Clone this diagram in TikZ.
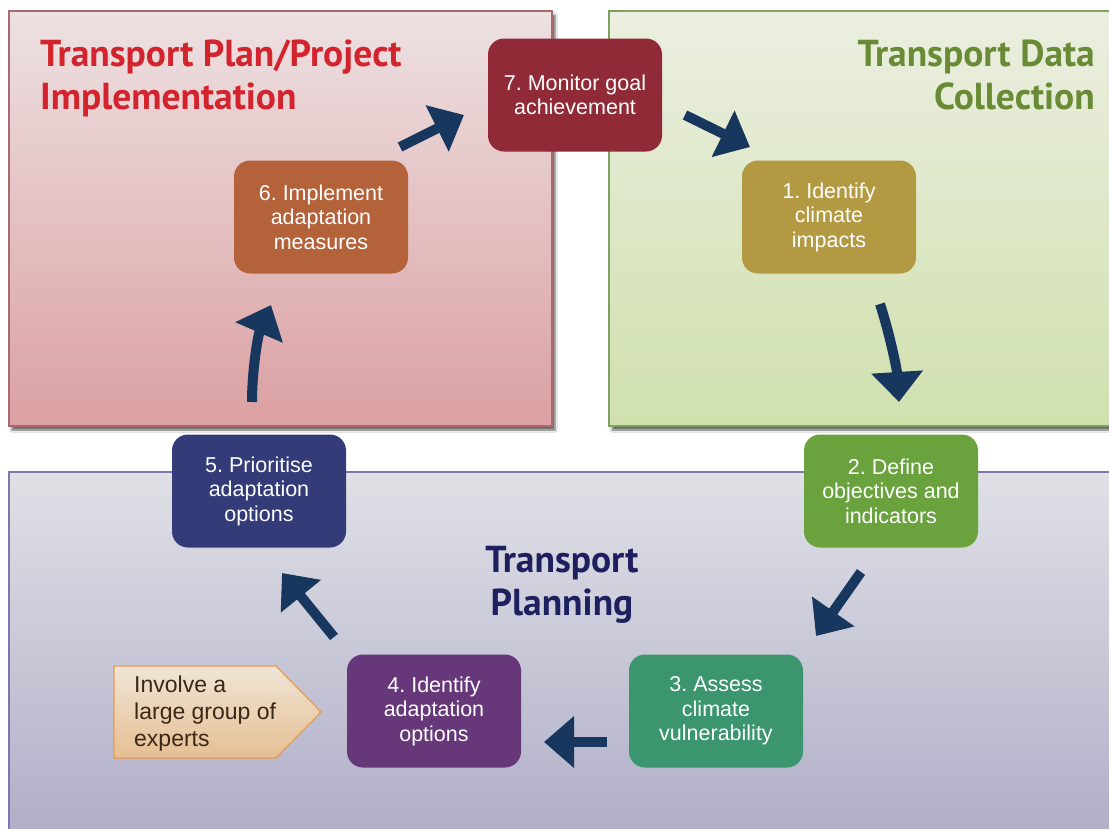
\documentclass[tikz,border=0pt]{standalone}
\usepackage{fontspec}
\setmainfont{Liberation Sans}
\newfontfamily\titlefont{PT Sans}
\usetikzlibrary{arrows.meta,shadows.blur}
\frenchspacing

\definecolor{redtop}{HTML}{EDE1E2}
\definecolor{redbot}{HTML}{DBA0A2}
\definecolor{redline}{HTML}{A86A6E}
\definecolor{greentop}{HTML}{EBEFE0}
\definecolor{greenbot}{HTML}{D0E0AE}
\definecolor{greenline}{HTML}{7FA262}
\definecolor{plantop}{HTML}{DFE1E6}
\definecolor{planbot}{HTML}{AEACC7}
\definecolor{planline}{HTML}{8573AE}
\definecolor{titlered}{HTML}{D3232D}
\definecolor{titlegreen}{HTML}{6A8B36}
\definecolor{titlenavy}{HTML}{1E1F5F}
\definecolor{arrowblue}{HTML}{17375E}
\definecolor{cmonitor}{HTML}{8F2A36}
\definecolor{cimplement}{HTML}{B3623A}
\definecolor{cimpacts}{HTML}{B39A42}
\definecolor{cdefine}{HTML}{6AA23E}
\definecolor{cassess}{HTML}{3B956F}
\definecolor{cidentify}{HTML}{66387A}
\definecolor{cprioritise}{HTML}{333B78}
\definecolor{experttop}{HTML}{EFE5D6}
\definecolor{expertbot}{HTML}{E6BF93}
\definecolor{expertline}{HTML}{EB9A4F}
\definecolor{experttext}{HTML}{3A2716}

\tikzset{
  panel/.style={line width=1.3pt},
  panelshadow/.style={blur shadow={shadow xshift=3pt, shadow yshift=-4pt, shadow blur steps=6, shadow opacity=60}},
  paneltitle/.style={font=\titlefont\bfseries\fontsize{37.5}{43}\selectfont, inner sep=0pt},
  stepbox/.style={rounded corners=16pt, minimum width=174pt, minimum height=113pt,
    text=white, align=center, inner sep=0pt, font=\fontsize{21.5}{24.5}\selectfont},
  flow/.style={line width=10pt, draw=arrowblue, -{Triangle[length=30pt,width=50pt]}}
}

\begin{document}
\begin{tikzpicture}[x=1pt,y=-1pt]
    \useasboundingbox (0,0) rectangle (1109,828);
    \clip (0,0) rectangle (1109,828);
    \fill[white] (0,0) rectangle (1109,828);

    % the three panels
    \draw[panel, draw=planline, top color=plantop, bottom color=planbot] (9,472) rectangle (1130,850);
    \draw[panel, panelshadow, draw=redline, top color=redtop, bottom color=redbot] (9,11) rectangle (552,426);
    \draw[panel, panelshadow, draw=greenline, top color=greentop, bottom color=greenbot] (609,11) rectangle (1130,426);

    \node[paneltitle, text=titlered, anchor=north west, align=left] (implTitle) at (40,40) {Transport Plan/Project\\Implementation};
    \node[paneltitle, text=titlegreen, anchor=north east, align=right] (dataTitle) at (1095,40) {Transport Data\\Collection};
    \node[paneltitle, text=titlenavy, anchor=north, align=center] (planTitle) at (562,546) {Transport\\Planning};

    % the seven steps
    \node[stepbox, fill=cmonitor] (monitor) at (575,95) {7. Monitor goal\\achievement};
    \node[stepbox, fill=cimplement] (implement) at (321,217) {6. Implement\\adaptation\\measures};
    \node[stepbox, fill=cimpacts] (impacts) at (829,217) {1. Identify\\climate\\impacts};
    \node[stepbox, fill=cdefine] (define) at (891,491) {2. Define\\objectives and\\indicators};
    \node[stepbox, fill=cassess] (assess) at (716,711) {3. Assess\\climate\\vulnerability};
    \node[stepbox, fill=cidentify] (options) at (434,711) {4. Identify\\adaptation\\options};
    \node[stepbox, fill=cprioritise] (prioritise) at (259,491) {5. Prioritise\\adaptation\\options};

    % note on step 4
    \draw[line width=1.2pt, draw=expertline, top color=experttop, bottom color=expertbot]
        (114,666) -- (276,666) -- (321,712) -- (276,758) -- (114,758) -- cycle;
    \node[anchor=west, align=left, inner sep=0pt, text=experttext, font=\fontsize{23}{27}\selectfont] (experts) at (134,714) {Involve a\\large group of\\experts};

    % arrows of the cycle
    \coordinate (implOut) at (400,147);  \coordinate (monIn) at (464,115);
    \coordinate (monOut) at (685,115);   \coordinate (impIn) at (750,147);
    \coordinate (impOut) at (880,304);   \coordinate (defIn) at (899,402);
    \coordinate (defOut) at (861,572);   \coordinate (assIn) at (816,636);
    \coordinate (assOut) at (607,742);   \coordinate (optIn) at (544,742);
    \coordinate (optOut) at (334,637);   \coordinate (priIn) at (282,573);
    \coordinate (priOut) at (252,402);   \coordinate (implIn) at (271,305);

    \draw[flow] (implOut) -- (monIn);
    \draw[flow] (monOut) -- (impIn);
    \draw[flow] (impOut) .. controls (890,335) and (897,370) .. (defIn);
    \draw[flow] (defOut) -- (assIn);
    \draw[flow] (assOut) -- (optIn);
    \draw[flow] (optOut) -- (priIn);
    \draw[flow] (priOut) .. controls (252,370) and (258,335) .. (implIn);
\end{tikzpicture}
\end{document}
